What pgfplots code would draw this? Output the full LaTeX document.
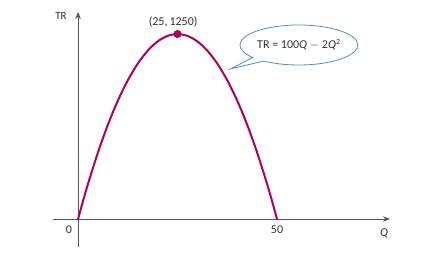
\documentclass[border=0pt]{standalone}
\usepackage{fontspec}
\setmainfont{Carlito}
\usepackage{pgfplots}
\pgfplotsset{compat=1.18}
\usetikzlibrary{shapes.callouts,arrows.meta}
\definecolor{curve}{RGB}{178,0,88}
\definecolor{callout}{RGB}{80,140,205}
\definecolor{axisgray}{RGB}{85,85,85}
\definecolor{txt}{RGB}{50,50,55}
\begin{document}
\begin{tikzpicture}[x=1pt,y=1pt]
\path (0,0) rectangle (441,257);
\begin{axis}[at={(53pt,10pt)}, anchor=south west, scale only axis,
  width=337pt, height=235pt,
  xmin=-6.3, xmax=78.4, ymin=-189, ymax=1399,
  axis lines=middle,
  axis line style={axisgray, line width=0.9pt, -{Stealth[length=7pt,width=5.5pt]}},
  xtick=\empty, ytick=\empty, clip=false,
  font=\fontsize{12}{14}\selectfont]
\addplot[curve, line width=2pt, smooth] coordinates {
(0,0) (1.25,121.875) (2.5,237.5) (5,450) (7.5,637.5) (10,800) (12.5,937.5)
(15,1050) (17.5,1137.5) (20,1200) (22.5,1237.5) (25,1250) (27.5,1237.5)
(30,1200) (32.5,1137.5) (35,1050) (37.5,937.5) (40,800) (42.5,637.5)
(45,450) (47.5,237.5) (48.75,121.875) (50,0)};
\addplot[only marks, mark=*, mark size=3.8pt, curve] coordinates {(25,1250)};
\node[txt, font=\fontsize{11}{13}\selectfont] at (axis cs:-4.3,1372) {TR};
\node[txt] at (axis cs:76.9,-95) {\textit{Q}};
\node[txt] at (axis cs:-2.3,-74) {0};
\node[txt] at (axis cs:50,-74) {50};
\node[txt] at (axis cs:23.9,1331) {(25,\,1250)};
\coordinate (tip) at (axis cs:38.4,1015);
\node[ellipse callout, draw=callout, line width=0.8pt, fill=white,
  minimum width=106pt, minimum height=40pt, inner sep=0pt, text=txt,
  callout absolute pointer={(tip)}] at (axis cs:55.5,1176)
  {TR = 100\textit{Q} $-$ 2\textit{Q}\textsuperscript{2}};
\end{axis}
\end{tikzpicture}
\end{document}
